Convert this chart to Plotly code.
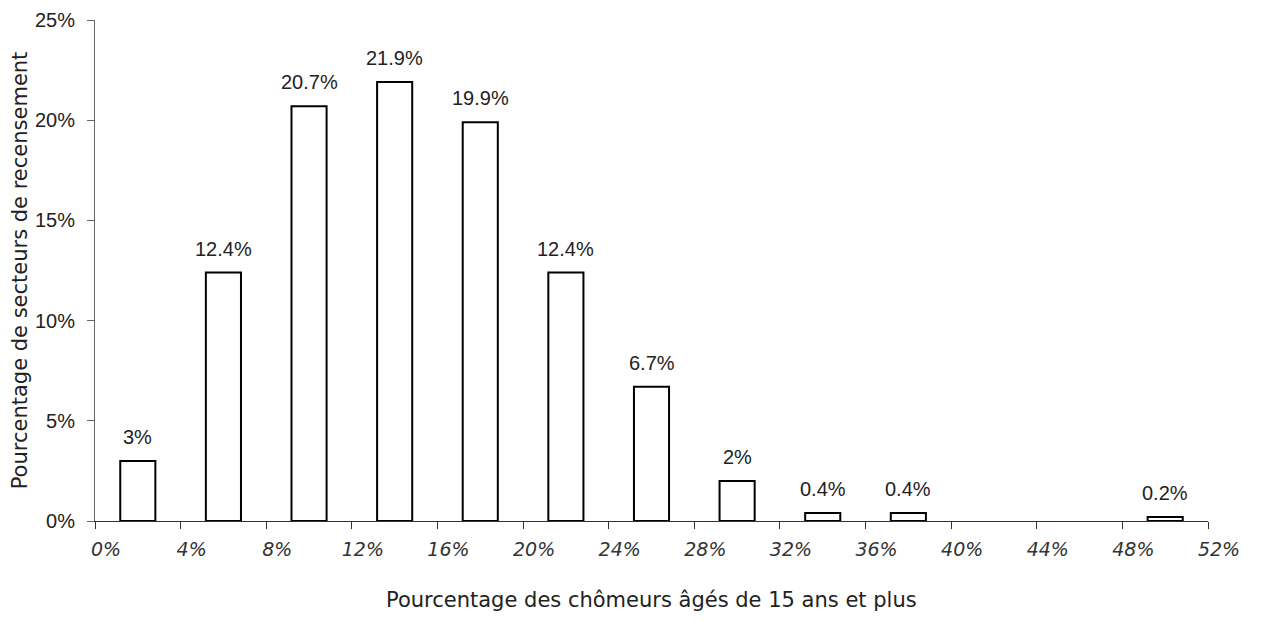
import plotly.graph_objects as go

# bins of 4 points, from 0% to 52%
bin_start = [0, 4, 8, 12, 16, 20, 24, 28, 32, 36, 40, 44, 48]
share = [3, 12.4, 20.7, 21.9, 19.9, 12.4, 6.7, 2, 0.4, 0.4, None, None, 0.2]
bar_labels = ["3%", "12.4%", "20.7%", "21.9%", "19.9%", "12.4%", "6.7%", "2%",
              "0.4%", "0.4%", "", "", "0.2%"]
x_ticks = list(range(0, 53, 4))
x_ticklabels = [f"{v}%" for v in x_ticks]
y_ticks = [0, 5, 10, 15, 20, 25]
y_ticklabels = [f"{v}%" for v in y_ticks]
x_title = "Pourcentage des chômeurs âgés de 15 ans et plus"
y_title = "Pourcentage de secteurs de recensement"

centers = [b + 2 for b in bin_start]

fig = go.Figure()
fig.add_trace(go.Bar(
    x=centers, y=share, width=1.64,
    marker=dict(color="white", line=dict(color="black", width=2)),
    hoverinfo="skip",
))

for xc, v, lab in zip(centers, share, bar_labels):
    if v is None:
        continue
    fig.add_annotation(x=xc, y=v, text=lab, showarrow=False, yanchor="bottom",
                       yshift=11, font=dict(size=20, color="#222"))

# x title placed by hand, as low as the figure allows
fig.add_annotation(x=0.5, y=0, xref="paper", yref="paper", text=x_title,
                   showarrow=False, yanchor="bottom", yshift=-93,
                   font=dict(size=21, family="DejaVu Sans", color="#222"))

# page has an 8px body margin, so the figure is a bit smaller than the window
fig.update_layout(
    width=1247, height=606,
    margin=dict(l=87, r=47, t=12, b=93),
    plot_bgcolor="white", paper_bgcolor="white",
    showlegend=False,
    font=dict(family="Liberation Sans, Arial, sans-serif", color="#222"),
)
fig.update_xaxes(
    range=[0, 52], tickvals=x_ticks, ticktext=x_ticklabels,
    showgrid=False, zeroline=False, automargin=False,
    showline=True, linecolor="#333", linewidth=1,
    ticks="outside", ticklen=7, tickcolor="#333",
    ticklabelshift=11, ticklabelstandoff=4,
    tickfont=dict(size=19, family="DejaVu Sans", color="#333", style="italic", weight=300),
)
fig.update_yaxes(
    range=[0, 25], tickvals=y_ticks, ticktext=y_ticklabels,
    showgrid=False, zeroline=False, automargin=False,
    showline=True, linecolor="#666", linewidth=1,
    ticks="outside", ticklen=7, tickcolor="#666",
    ticklabelstandoff=8,
    tickfont=dict(size=20),
    title=dict(text=y_title, font=dict(size=21, family="DejaVu Sans"), standoff=2),
)

fig.write_html("out.html")
